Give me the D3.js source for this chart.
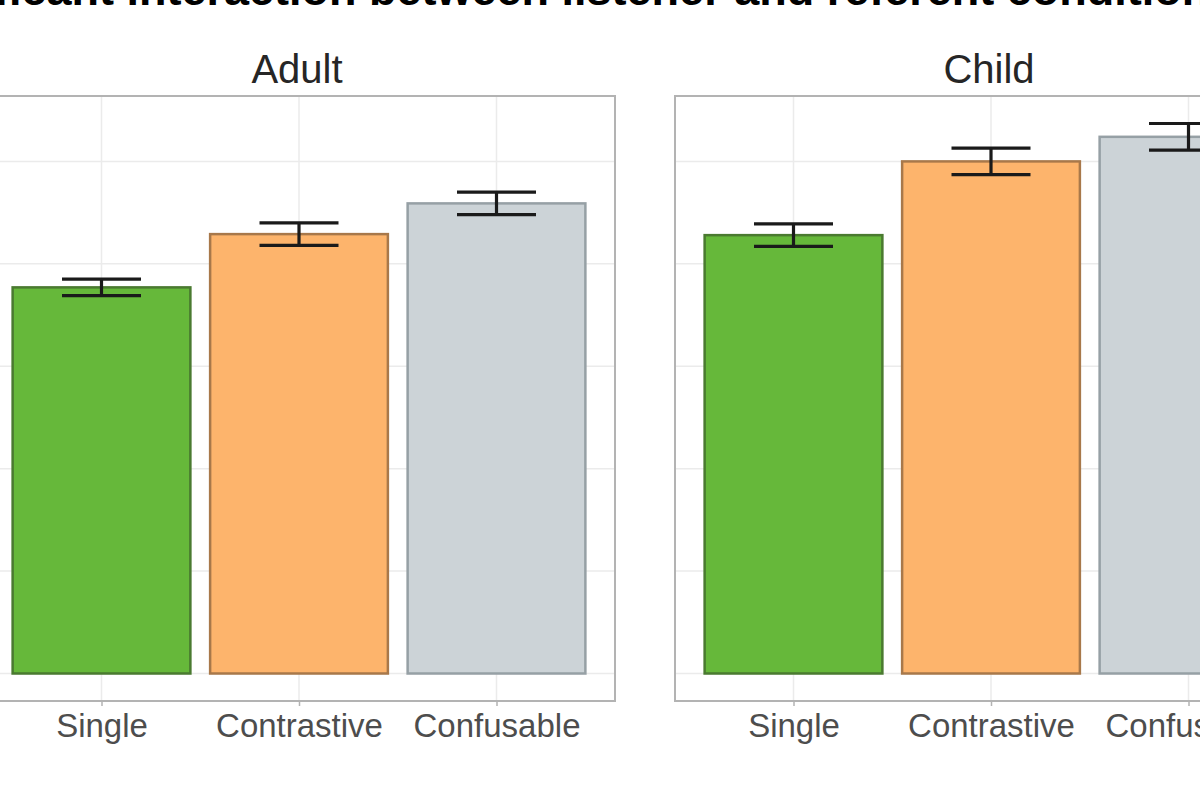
<!DOCTYPE html>
<html>
<head>
<meta charset="utf-8">
<script src="https://cdn.jsdelivr.net/npm/d3@7"></script>
<style>
  body { margin: 0; background: #fff; }
  svg { display: block; }
</style>
</head>
<body>
<div id="chart"></div>
<script>
// values (proportions, y labels are cut off in the crop)
const listeners = ["Adult", "Child"];
const conditions = ["Single", "Contrastive", "Confusable"];
const adultMeans = [0.377, 0.429, 0.459];
const adultSE = [0.008, 0.011, 0.011];
const childMeans = [0.428, 0.500, 0.524];
const childSE = [0.011, 0.013, 0.013];
const yTicks = [0, 0.1, 0.2, 0.3, 0.4, 0.5];
const conditionColors = ["#66b83a", "#fdb46c", "#ccd3d7"];
const borderColors = ["#4a7a30", "#a8784a", "#96a0a5"];
const titleText = "Significant interaction between listener and referent condition";

window.addEventListener('load', drawChart);

function drawChart() {
  let width = 1200;
  let height = 792;

  let panelW = 632;
  let panelTop = 96;
  let panelBottom = 701;
  let panelX = [-17, 675];

  let meansBy = { Adult: adultMeans, Child: childMeans };
  let seBy = { Adult: adultSE, Child: childSE };

  let color = d3.scaleOrdinal()
      .domain(conditions)
      .range(conditionColors);
  let border = d3.scaleOrdinal()
      .domain(conditions)
      .range(borderColors);

  // shared y scale, ggplot style 5% expansion on both ends
  let yMax = d3.max(listeners, l => d3.max(meansBy[l], (m, i) => m + seBy[l][i]));
  let pad = yMax * 0.05;
  let y = d3.scaleLinear()
      .domain([0 - pad, yMax + pad])
      .range([panelBottom, panelTop]);

  const svg = d3.select("#chart")
    .append("svg")
      .attr("width", width)
      .attr("height", height)
      .attr("font-family", "Liberation Sans, Arial, sans-serif");

  // title, mostly outside the crop at the top
  const measure = svg.append("text")
      .attr("font-size", 45)
      .attr("font-weight", "bold")
      .text("Significant ");
  let firstWordW = measure.node().getComputedTextLength();
  measure.remove();

  svg.append("text")
      .attr("x", 114 - firstWordW)
      .attr("y", 5)
      .attr("font-size", 45)
      .attr("font-weight", "bold")
      .attr("fill", "#000")
      .text(titleText);

  listeners.forEach((listener, p) => {
    let x = d3.scalePoint()
        .domain(conditions)
        .range([panelX[p], panelX[p] + panelW])
        .padding(0.6);
    let step = x.step();

    const rows = conditions.map((c, i) => ({
      cond: c,
      mean: meansBy[listener][i],
      se: seBy[listener][i]
    }));

    const g = svg.append("g");

    // strip label
    g.append("text")
        .attr("x", panelX[p] + panelW / 2 - 2)
        .attr("y", 83)
        .attr("text-anchor", "middle")
        .attr("font-size", 40)
        .attr("fill", "#262626")
        .text(listener);

    // grid
    g.append("g")
        .attr("stroke", "#ebebeb")
        .attr("stroke-width", 1.5)
      .selectAll("line")
      .data(yTicks)
      .join("line")
        .attr("x1", panelX[p])
        .attr("x2", panelX[p] + panelW)
        .attr("y1", d => y(d))
        .attr("y2", d => y(d));

    g.append("g")
        .attr("stroke", "#ebebeb")
        .attr("stroke-width", 1.5)
      .selectAll("line")
      .data(conditions)
      .join("line")
        .attr("x1", d => x(d))
        .attr("x2", d => x(d))
        .attr("y1", panelTop)
        .attr("y2", panelBottom);

    // bars
    g.append("g")
      .selectAll("rect")
      .data(rows)
      .join("rect")
        .attr("x", d => x(d.cond) - step * 0.45)
        .attr("width", step * 0.9)
        .attr("y", d => y(d.mean))
        .attr("height", d => y(0) - y(d.mean))
        .attr("fill", d => color(d.cond))
        .attr("stroke", d => border(d.cond))
        .attr("stroke-width", 2.5);

    // error bars
    const eb = g.append("g")
        .attr("stroke", "#1a1a1a")
        .attr("stroke-width", 3.2)
      .selectAll("g")
      .data(rows)
      .join("g");

    eb.append("line")
        .attr("x1", d => x(d.cond))
        .attr("x2", d => x(d.cond))
        .attr("y1", d => y(d.mean - d.se))
        .attr("y2", d => y(d.mean + d.se));
    eb.append("line")
        .attr("x1", d => x(d.cond) - step * 0.2)
        .attr("x2", d => x(d.cond) + step * 0.2)
        .attr("y1", d => y(d.mean + d.se))
        .attr("y2", d => y(d.mean + d.se));
    eb.append("line")
        .attr("x1", d => x(d.cond) - step * 0.2)
        .attr("x2", d => x(d.cond) + step * 0.2)
        .attr("y1", d => y(d.mean - d.se))
        .attr("y2", d => y(d.mean - d.se));

    // panel border
    g.append("rect")
        .attr("x", panelX[p])
        .attr("y", panelTop)
        .attr("width", panelW)
        .attr("height", panelBottom - panelTop)
        .attr("fill", "none")
        .attr("stroke", "#b3b3b3")
        .attr("stroke-width", 2);

    // x axis
    const xAxis = g.append("g")
        .attr("transform", `translate(0,${panelBottom})`)
        .call(d3.axisBottom(x).tickSize(5).tickPadding(8));
    xAxis.select(".domain").remove();
    xAxis.selectAll(".tick line")
        .attr("stroke", "#b3b3b3")
        .attr("stroke-width", 1.5);
    xAxis.selectAll(".tick text")
        .attr("font-size", 33)
        .attr("font-family", "Liberation Sans, Arial, sans-serif")
        .attr("fill", "#4d4d4d");
  });
}
</script>
</body>
</html>
